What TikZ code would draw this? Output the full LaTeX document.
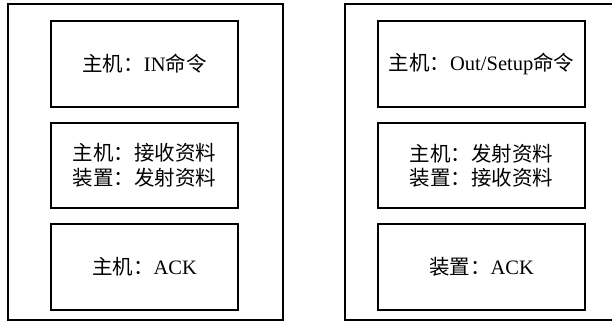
\documentclass[tikz,border=0pt]{standalone}
\usepackage{fontspec}
\setmainfont{Liberation Serif}
\newfontfamily\cjk{Noto Sans CJK SC}
\tikzset{
  frame/.style={draw=black, line width=2pt},
  stepbox/.style={draw=black, line width=1.8pt, align=center, inner sep=0pt,
    font=\fontsize{20.5}{24.5}\selectfont},
}
\begin{document}
\begin{tikzpicture}[x=1pt,y=-1pt]
\useasboundingbox (0,0) rectangle (612,321);
% left outer frame
\node[frame, minimum width=275pt, minimum height=315pt, inner sep=0pt] (L) at (145.5,162) {};
% right outer frame (cut by picture edge)
\coordinate (RT) at (614,4);
\coordinate (RB) at (614,319.5);
\draw[frame] (RT) -- (345,4) -- (345,319.5) -- (RB);
% left column
\node[stepbox, minimum width=187pt, minimum height=86pt] (L1) at (144.5,64) {{\cjk 主机：}IN{\cjk 命令}};
\node[stepbox, minimum width=187pt, minimum height=85pt] (L2) at (144.5,165.5) {\raisebox{-2pt}{\cjk 主机：接收资料}\\\raisebox{-2pt}{\cjk 装置：发射资料}};
\node[stepbox, minimum width=187pt, minimum height=86pt] (L3) at (144.5,267) {{\cjk 主机：}ACK};
% right column
\node[stepbox, minimum width=207pt, minimum height=86pt] (R1) at (481.5,64) {{\cjk 主机：}Out/Setup{\cjk 命令}};
\node[stepbox, minimum width=207pt, minimum height=85pt] (R2) at (481.5,165.5) {\raisebox{-2pt}{\cjk 主机：发射资料}\\\raisebox{-2pt}{\cjk 装置：接收资料}};
\node[stepbox, minimum width=207pt, minimum height=86pt] (R3) at (481.5,267) {{\cjk 装置：}ACK};
\end{tikzpicture}
\end{document}
